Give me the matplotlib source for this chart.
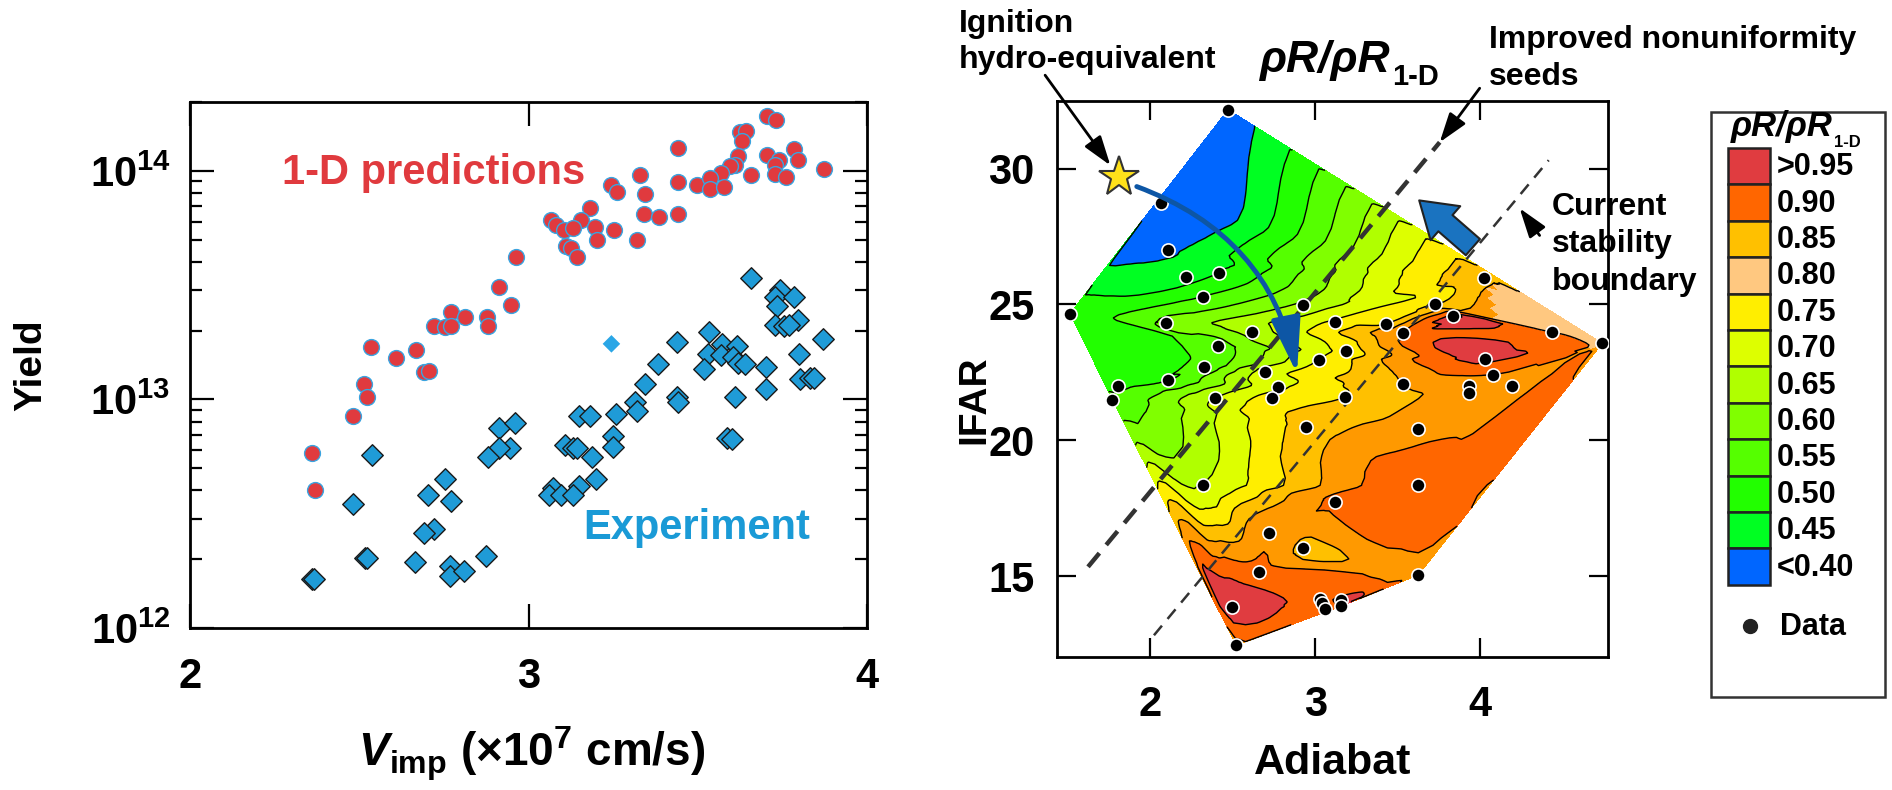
import numpy as np
import matplotlib
matplotlib.use('Agg')
import matplotlib.pyplot as plt
import matplotlib.tri as mtri
from matplotlib.patches import Rectangle
from matplotlib.ticker import FixedLocator, LogLocator, NullFormatter, FixedFormatter

FONT = 'Liberation Sans'
plt.rcParams['font.family'] = [FONT, 'DejaVu Sans']
plt.rcParams['font.weight'] = 'bold'
plt.rcParams['mathtext.fontset'] = 'custom'
plt.rcParams['mathtext.rm'] = FONT + ':bold'
plt.rcParams['mathtext.bf'] = FONT + ':bold'
plt.rcParams['mathtext.it'] = FONT + ':italic:bold'
plt.rcParams['mathtext.bfit'] = FONT + ':italic:bold'

# ---- yield vs implosion velocity ----
v_pred = [3.706, 3.731, 3.625, 3.643, 3.632, 3.441, 3.783, 3.706, 3.620, 3.741,
          3.797, 3.874, 3.727, 3.611, 3.594, 3.569, 3.727, 3.762, 3.657, 3.329,
          3.441, 3.497, 3.536, 3.536, 3.578, 3.245, 3.262, 3.343, 3.182, 3.340,
          3.385, 3.441, 3.066, 3.080, 3.154, 3.196, 3.252, 3.105, 3.130, 3.203,
          3.322, 3.112, 3.126, 3.144, 2.962, 2.913, 2.947, 2.877, 2.881, 2.772,
          2.811, 2.720, 2.752, 2.772, 2.536, 2.608, 2.669, 2.692, 2.706, 2.515,
          2.522, 2.483, 2.361, 2.368]
y_pred = [1.73e14, 1.66e14, 1.48e14, 1.50e14, 1.35e14, 1.26e14, 1.24e14, 1.17e14, 1.16e14, 1.11e14,
          1.11e14, 1.02e14, 1.06e14, 1.06e14, 1.05e14, 9.8e13, 9.7e13, 9.4e13, 9.6e13, 9.6e13,
          8.9e13, 8.7e13, 9.3e13, 8.3e13, 8.5e13, 8.7e13, 8.1e13, 7.9e13, 6.9e13, 6.5e13,
          6.3e13, 6.5e13, 6.1e13, 5.8e13, 6.1e13, 5.7e13, 5.5e13, 5.5e13, 5.6e13, 5.0e13,
          5.0e13, 4.7e13, 4.6e13, 4.2e13, 4.2e13, 3.1e13, 2.6e13, 2.3e13, 2.1e13, 2.4e13,
          2.3e13, 2.1e13, 2.07e13, 2.1e13, 1.70e13, 1.51e13, 1.64e13, 1.32e13, 1.33e13, 1.17e13,
          1.02e13, 8.5e12, 5.8e12, 4.0e12]

v_exp = [3.657, 3.744, 3.727, 3.783, 3.734, 3.797, 3.727, 3.755, 3.769, 3.534,
         3.871, 3.438, 3.571, 3.615, 3.531, 3.569, 3.800, 3.603, 3.620, 3.641,
         3.382, 3.701, 3.517, 3.802, 3.832, 3.844, 3.343, 3.701, 3.315, 3.322,
         3.438, 3.441, 3.611, 3.150, 3.182, 3.259, 3.249, 3.249, 3.587, 3.601,
         2.912, 2.961, 2.944, 2.912, 2.881, 3.108, 3.130, 3.144, 3.189, 2.538,
         2.752, 2.702, 2.772, 2.483, 3.200, 3.150, 3.073, 3.060, 3.095, 3.130,
         2.720, 2.692, 2.517, 2.524, 2.664, 2.874, 2.769, 2.769, 2.808, 2.361,
         2.367]
y_exp = [3.4e13, 3.0e13, 2.8e13, 2.8e13, 2.55e13, 2.23e13, 2.12e13, 2.10e13, 2.12e13, 1.97e13,
         1.83e13, 1.78e13, 1.75e13, 1.72e13, 1.58e13, 1.57e13, 1.58e13, 1.53e13, 1.45e13, 1.43e13,
         1.43e13, 1.38e13, 1.36e13, 1.23e13, 1.24e13, 1.24e13, 1.17e13, 1.11e13, 9.7e12, 8.9e12,
         1.02e13, 9.7e12, 1.02e13, 8.5e12, 8.5e12, 8.6e12, 6.9e12, 6.2e12, 6.8e12, 6.7e12,
         7.5e12, 7.9e12, 6.1e12, 6.1e12, 5.6e12, 6.3e12, 6.1e12, 6.1e12, 5.6e12, 5.7e12,
         4.5e12, 3.8e12, 3.6e12, 3.5e12, 4.5e12, 4.2e12, 4.1e12, 3.8e12, 3.8e12, 3.8e12,
         2.7e12, 2.6e12, 2.03e12, 2.03e12, 1.95e12, 2.06e12, 1.87e12, 1.68e12, 1.77e12, 1.63e12,
         1.63e12]
v_exp_open = [3.245]
y_exp_open = [1.75e13]

# ---- areal density ratio map ----
adiabat = [2.473, 2.068, 2.111, 2.216, 2.419, 1.516, 2.319, 2.095, 2.927, 3.122,
           3.430, 3.724, 4.022, 3.832, 3.532, 4.432, 4.738, 2.616, 2.414, 3.184,
           3.022, 4.030, 2.327, 2.697, 4.076, 2.111, 1.805, 2.778, 3.530, 3.932,
           4.189, 1.773, 2.395, 2.738, 3.178, 3.932, 2.943, 3.624, 2.319, 3.624,
           3.122, 2.719, 2.927, 2.657, 3.624, 3.030, 3.041, 3.062, 3.157, 3.157,
           2.495, 2.522]
ifar = [32.17, 28.75, 26.99, 26.01, 26.17, 24.66, 25.29, 24.32, 24.99, 24.35,
        24.29, 25.00, 25.98, 24.59, 23.96, 23.98, 23.57, 23.98, 23.46, 23.28,
        22.97, 23.00, 22.69, 22.51, 22.42, 22.20, 22.01, 21.95, 22.08, 22.01,
        22.01, 21.50, 21.56, 21.56, 21.60, 21.75, 20.49, 20.43, 18.34, 18.34,
        17.72, 16.58, 16.02, 15.16, 15.04, 14.17, 13.99, 13.77, 14.11, 13.89,
        13.87, 12.45]
rho_ratio = [0.42, 0.36, 0.44, 0.48, 0.50, 0.52, 0.55, 0.61, 0.66, 0.76,
             0.80, 0.80, 0.84, 0.953, 0.90, 0.90, 0.89, 0.67, 0.58, 0.77,
             0.75, 0.962, 0.57, 0.72, 0.90, 0.55, 0.54, 0.74, 0.85, 0.87,
             0.87, 0.56, 0.70, 0.77, 0.80, 0.87, 0.82, 0.88, 0.70, 0.94,
             0.91, 0.89, 0.84, 0.92, 0.89, 0.93, 0.93, 0.92, 0.96, 0.95,
             0.98, 0.88]

levels = [0.0, 0.45, 0.50, 0.55, 0.60, 0.65, 0.70, 0.75, 0.80, 0.85, 0.90, 0.95, 1.05]
band_colors = ['#0066ff', '#00ff22', '#22ff00', '#55ff00', '#80ff00', '#b0ff00',
               '#ddff00', '#ffee00', '#ffc000', '#ff9900', '#ff6600', '#e03c40']
peach = '#ffc880'

legend_labels = ['>0.95', '0.90', '0.85', '0.80', '0.75', '0.70', '0.65', '0.60',
                 '0.55', '0.50', '0.45', '<0.40']
legend_colors = ['#e03c40', '#ff6600', '#ffc000', peach, '#ffee00', '#ddff00',
                 '#b0ff00', '#80ff00', '#55ff00', '#22ff00', '#00ff22', '#0066ff']

# hydro-equivalent design point and stability lines (adiabat, IFAR)
ignition_point = (1.81, 29.68)
seeds_line = ([1.625, 3.754], [15.34, 30.97])
current_line = ([2.024, 4.414], [12.82, 30.31])

W, H = 1892, 790
fig = plt.figure(figsize=(W / 100, H / 100), dpi=100)


def box(l, t, r, b):
    return [l / W, 1 - b / H, (r - l) / W, (b - t) / H]


# ================= left panel =================
ax1 = fig.add_axes(box(190, 102, 867, 628))
ax1.set_yscale('log')
ax1.set_xlim(2, 4)
ax1.set_ylim(1e12, 2e14)
ax1.scatter(v_exp, y_exp, marker='D', s=120, c='#1f9bd7', edgecolors='#1a1a1a',
            linewidths=1.0, zorder=3)
ax1.scatter(v_exp_open, y_exp_open, marker='D', s=80, c='#2aa6e6', edgecolors='none', zorder=3)
ax1.scatter(v_pred, y_pred, marker='o', s=130, c='#e03a3e', edgecolors='#3aa4e0',
            linewidths=1.0, zorder=4)
ax1.text(2.273, 8.8e13, '1-D predictions', color='#e03a3e', fontsize=30,
         ha='left', va='baseline')
ax1.text(3.161, 2.45e12, 'Experiment', color='#1a9ad6', fontsize=30,
         ha='left', va='baseline')

ax1.xaxis.set_major_locator(FixedLocator([2, 3, 4]))
ax1.yaxis.set_major_locator(FixedLocator([1e12, 1e13, 1e14]))
ax1.yaxis.set_major_formatter(FixedFormatter([r'$\mathbf{10^{12}}$', r'$\mathbf{10^{13}}$',
                                              r'$\mathbf{10^{14}}$']))
ax1.yaxis.set_minor_locator(LogLocator(base=10, subs=np.arange(2, 10)))
ax1.yaxis.set_minor_formatter(NullFormatter())
ax1.tick_params(axis='both', which='major', direction='in', top=True, right=True,
                length=17, width=1.6, labelsize=30)
ax1.tick_params(axis='x', which='major', pad=21)
ax1.tick_params(axis='y', which='major', pad=14)
ax1.tick_params(axis='y', which='minor', direction='in', left=True, right=True,
                length=8.5, width=1.6)
for s in ax1.spines.values():
    s.set_linewidth(2)
ax1.text(-0.235, 0.5, 'Yield', transform=ax1.transAxes, rotation=90, fontsize=28,
         ha='center', va='center')
ax1.text(0.505, -0.24, r'$\mathbfit{V}_{\mathbf{imp}}$ (×10$^{\mathbf{7}}$ cm/s)',
         transform=ax1.transAxes, fontsize=33, ha='center', va='center')

# ================= right panel =================
ax2 = fig.add_axes(box(1057, 101, 1608, 657))
ax2.set_xlim(1.437, 4.773)
ax2.set_ylim(12.02, 32.49)

# smooth cubic surface over the shots, kept within each parent triangle's range
z = np.array(rho_ratio)
tri = mtri.Triangulation(adiabat, ifar)
refiner = mtri.UniformTriRefiner(tri)
tri_f, z_f = refiner.refine_field(z, triinterpolator=mtri.CubicTriInterpolator(tri, z, kind='geom'),
                                  subdiv=3)
parent = tri.get_trifinder()(tri_f.x, tri_f.y)
parent = np.where(parent < 0, 0, parent)
corner_vals = z[tri.triangles[parent]]
z_f = np.clip(z_f, corner_vals.min(axis=1), corner_vals.max(axis=1))
ax2.tricontourf(tri_f, z_f, levels=levels, colors=band_colors, zorder=1)

# upper-right corner of the map uses the light shade for the 0.85-0.90 band
cx = tri_f.x[tri_f.triangles].mean(axis=1)
cy = tri_f.y[tri_f.triangles].mean(axis=1)
corner = mtri.Triangulation(tri_f.x, tri_f.y, tri_f.triangles,
                            mask=~((cx > 4.08) & (cy > 23.45)))
ax2.tricontourf(corner, z_f, levels=[0.85, 0.90], colors=[peach], zorder=1.5)
ax2.tricontour(tri_f, z_f, levels=levels[1:-1], colors='k', linewidths=1.0, zorder=2)

ax2.plot(*seeds_line, color='#333333', lw=3.2, dashes=(4, 2.4), zorder=5)
ax2.plot(*current_line, color='#333333', lw=1.8, dashes=(5, 3.5), zorder=5)

ax2.scatter(adiabat, ifar, s=90, c='black', edgecolors='white', linewidths=1.2, zorder=6)

ax2.plot(*ignition_point, marker='*', ms=30, mfc='#ffe11a', mec='#333333', mew=1.5,
         zorder=7, clip_on=False)
ax2.annotate('', xy=(2.89, 22.45), xytext=(1.92, 29.34),
             arrowprops=dict(arrowstyle='-|>,head_length=1.7,head_width=0.45',
                             connectionstyle='arc3,rad=-0.28', color='#0d56a5',
                             lw=3.5, mutation_scale=20, shrinkA=0, shrinkB=0), zorder=8)
ax2.annotate('', xy=(3.63, 28.83), xytext=(3.955, 27.11),
             arrowprops=dict(arrowstyle='simple,head_length=1.0,head_width=1.3,tail_width=0.62',
                             fc='#1a73c0', ec='#222222', lw=1.5, mutation_scale=25,
                             shrinkA=0, shrinkB=0), zorder=8)
arrow_k = dict(arrowstyle='-|>,head_length=0.9,head_width=0.3', color='black', lw=2,
               mutation_scale=20, shrinkA=0, shrinkB=0)
ax2.annotate('', xy=(1.76, 30.12), xytext=(1.365, 33.44), arrowprops=arrow_k,
             annotation_clip=False, zorder=8)
ax2.annotate('', xy=(3.754, 30.97), xytext=(3.996, 32.96), arrowprops=arrow_k,
             annotation_clip=False, zorder=8)
ax2.annotate('', xy=(4.238, 28.54), xytext=(4.359, 27.54), arrowprops=arrow_k,
             annotation_clip=False, zorder=8)

ax2.xaxis.set_major_locator(FixedLocator([2, 3, 4]))
ax2.yaxis.set_major_locator(FixedLocator([15, 20, 25, 30]))
ax2.tick_params(axis='both', direction='in', top=True, right=True, length=13.5,
                width=1.6, labelsize=30)
ax2.tick_params(axis='x', pad=20)
ax2.tick_params(axis='y', pad=16)
for s in ax2.spines.values():
    s.set_linewidth(2)
ax2.text(-0.15, 0.462, 'IFAR', transform=ax2.transAxes, rotation=90, fontsize=28,
         ha='center', va='center')
ax2.text(0.5, -0.19, 'Adiabat', transform=ax2.transAxes, fontsize=31,
         ha='center', va='center')

# ================= labels and key in figure pixels =================
pax = fig.add_axes([0, 0, 1, 1])
pax.set_xlim(0, W)
pax.set_ylim(H, 0)
pax.axis('off')
pax.patch.set_visible(False)

pax.text(959, 32, 'Ignition', fontsize=23, ha='left', va='baseline')
pax.text(959, 68, 'hydro-equivalent', fontsize=23, ha='left', va='baseline')
pax.text(1489, 48, 'Improved nonuniformity', fontsize=23, ha='left', va='baseline')
pax.text(1489, 85, 'seeds', fontsize=23, ha='left', va='baseline')
for txt, yy in zip(['Current', 'stability', 'boundary'], [215, 252, 290]):
    pax.text(1552, yy, txt, fontsize=23, ha='left', va='baseline')

t1 = pax.text(1259, 72, 'ρR/ρR', fontsize=32, style='italic', ha='left', va='baseline')
pax.annotate('1-D', xy=(1.0, 0.0), xycoords=t1, xytext=(2, -7), textcoords='offset points',
             fontsize=21, ha='left', va='bottom')

# key box
pax.add_patch(Rectangle((1711, 112), 174, 585, fc='white', ec='#333333', lw=1.8))
t2 = pax.text(1731, 136, 'ρR/ρR', fontsize=25, style='italic', ha='left', va='baseline')
pax.annotate('1-D', xy=(1.0, 0.0), xycoords=t2, xytext=(1, -5), textcoords='offset points',
             fontsize=12, ha='left', va='bottom')
sw_top, sw_h = 148, 36.4
for i, (lab, col) in enumerate(zip(legend_labels, legend_colors)):
    y0 = sw_top + i * sw_h
    pax.add_patch(Rectangle((1728, y0), 42, sw_h, fc=col, ec='#222222', lw=1.8))
    pax.text(1777, y0 + sw_h / 2 + 1, lab, fontsize=22, ha='left', va='center')
pax.plot([1750], [626], 'o', ms=10, color='#222222')
pax.text(1780, 627, 'Data', fontsize=22, ha='left', va='center')

fig.savefig('out.png', dpi=100)
